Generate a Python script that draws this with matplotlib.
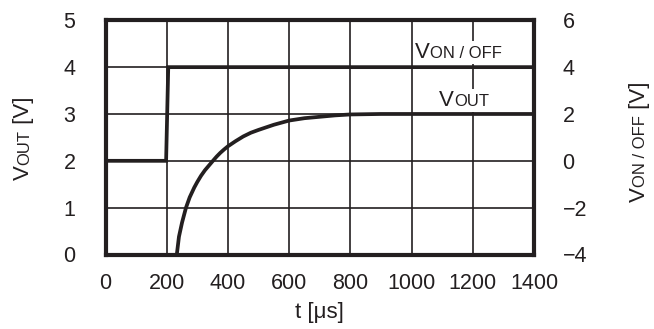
import matplotlib
matplotlib.use('Agg')
import matplotlib.pyplot as plt
from matplotlib.patches import Rectangle
from matplotlib.transforms import Bbox, IdentityTransform

plt.rcParams['font.family'] = ['Liberation Sans', 'DejaVu Sans']
plt.rcParams['axes.unicode_minus'] = True

INK = '#231f20'
W, H = 654, 329

# V_ON/OFF step (right axis, volts)
t_onoff = [0, 198, 205, 1400]
v_onoff = [0, 0, 4, 4]

# V_OUT response (left axis, volts)
t_out = [233, 240, 250, 263, 275, 290, 300, 312, 325, 338, 351, 363, 375, 387,
         400, 425, 450, 475, 500, 550, 600, 650, 700, 750, 800, 900, 1000, 1400]
v_out = [0.0, 0.38, 0.68, 1.0, 1.22, 1.43, 1.55, 1.68, 1.8, 1.9, 2.0, 2.09,
         2.17, 2.24, 2.31, 2.42, 2.52, 2.6, 2.66, 2.77, 2.86, 2.91, 2.94,
         2.97, 2.99, 3.0, 3.0, 3.0]

x_ticks = [0, 200, 400, 600, 800, 1000, 1200, 1400]
left_ticks = [0, 1, 2, 3, 4, 5]
right_ticks = [-4, -2, 0, 2, 4, 6]

fig = plt.figure(figsize=(W / 100, H / 100), dpi=100)
ax = fig.add_axes([105.5 / W, 1 - 254.5 / H, (534 - 105.5) / W, (254.5 - 20.3) / H])
ax2 = ax.twinx()

ax.set_xlim(0, 1400)
ax.set_ylim(0, 5)
ax2.set_ylim(-4, 6)
ax.set_xticks(x_ticks)
ax.set_yticks(left_ticks)
ax2.set_yticks(right_ticks)

ax.set_axisbelow(True)
ax.grid(True, color=INK, linewidth=1.2)
ax.tick_params(axis='both', length=0, labelsize=15.5, colors=INK)
ax.tick_params(axis='x', pad=13.5)
ax.tick_params(axis='y', pad=21.6)
ax2.tick_params(axis='y', length=0, labelsize=15.5, colors=INK, pad=20.6)

for s in ax.spines.values():
    s.set_linewidth(3)
    s.set_color(INK)
for s in ax2.spines.values():
    s.set_visible(False)

ax.plot(t_out, v_out, color=INK, linewidth=2.7, zorder=2, solid_capstyle='butt')
ax2.plot(t_onoff, v_onoff, color=INK, linewidth=2.7, zorder=2, solid_joinstyle='miter')


def mixed_label(owner, x, y, parts, rotation=0, align='left', zorder=3, box=False):
    """Chain text pieces of different sizes along one baseline (pixel coords)."""
    renderer = fig.canvas.get_renderer()
    widths = []
    for s, size in parts:
        tmp = fig.text(0, 0, s, fontsize=size)
        widths.append(tmp.get_window_extent(renderer).width)
        tmp.remove()
    dx, dy = (1, 0) if rotation == 0 else (0, 1)
    pos = 0 if align == 'left' else -sum(widths) / 2
    texts = []
    for (s, size), w in zip(parts, widths):
        texts.append(owner.text(x + dx * pos, y + dy * pos, s, transform=IdentityTransform(),
                                fontsize=size, rotation=rotation, rotation_mode='anchor',
                                ha='left', va='baseline', color=INK, zorder=zorder))
        pos += w
    if box:
        bb = Bbox.union([t.get_window_extent(renderer) for t in texts])
        owner.add_patch(Rectangle((bb.x0 - 1, bb.y0 - 1), bb.width + 2, bb.height + 2,
                                  transform=IdentityTransform(), facecolor='white',
                                  edgecolor='none', zorder=zorder - 0.1))
    return texts


# in-plot curve labels
x0, y0 = ax.transData.transform((1011, 4.2))
mixed_label(ax, x0, y0, [('V', 16), ('ON / OFF', 12)], zorder=1.5, box=True)
x0, y0 = ax.transData.transform((1090, 3.17))
mixed_label(ax, x0, y0, [('V', 16), ('OUT', 12)], zorder=1.5, box=True)

# axis labels
mixed_label(fig, 29, H - 138, [('V', 16), ('OUT', 12), (' [V]', 16)], rotation=90, align='center')
mixed_label(fig, 645, H - 142, [('V', 16), ('ON / OFF', 12), (' [V]', 16)], rotation=90, align='center')
fig.text(319.7, H - 318, 't [μs]', transform=IdentityTransform(), fontsize=16,
         ha='center', va='baseline', color=INK)

fig.savefig('out.png', dpi=100)
